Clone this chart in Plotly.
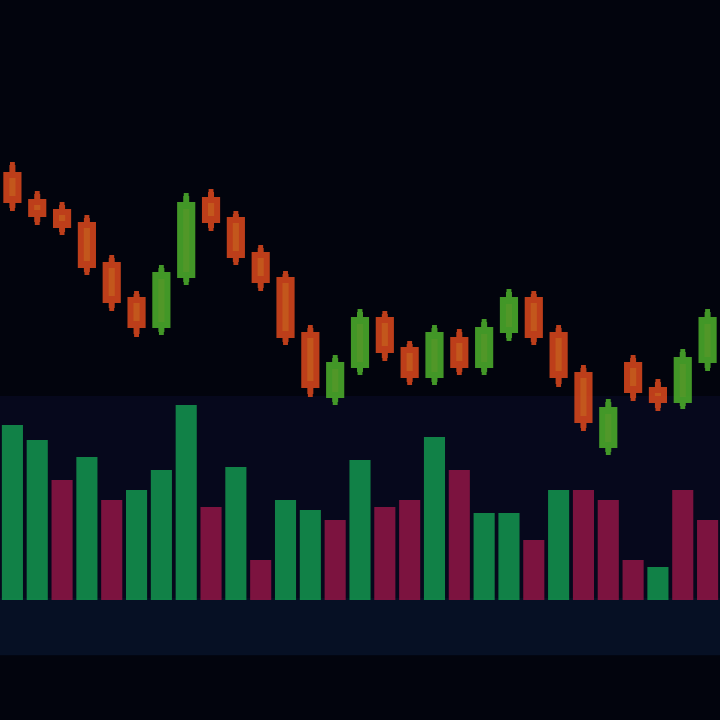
import plotly.graph_objects as go

# Candle index (time steps)
steps = list(range(29))

open_ = [54.5, 51.8, 50.8, 49.5, 45.5, 42.0, 39.5, 44.5, 52.0, 50.0, 46.5, 44.0, 38.5, 32.5, 35.5,
         40.0, 37.0, 34.5, 38.0, 35.5, 39.0, 42.0, 38.5, 34.5, 27.5, 35.5, 33.0, 32.0, 36.0]
close = [52.0, 50.6, 49.5, 45.5, 42.0, 39.5, 44.5, 51.5, 50.0, 46.5, 44.0, 38.5, 33.5, 35.5, 40.0,
         37.0, 34.5, 38.5, 35.5, 39.0, 42.0, 38.5, 34.5, 30.0, 31.0, 33.0, 32.0, 36.0, 40.0]
high = [55.5, 52.6, 51.5, 50.2, 46.2, 42.6, 45.2, 52.4, 52.8, 50.6, 47.2, 44.6, 39.2, 36.2, 40.8,
        40.6, 37.6, 39.2, 38.8, 39.8, 42.8, 42.6, 39.2, 35.2, 31.8, 36.2, 33.8, 36.8, 40.8]
low = [51.2, 49.8, 48.8, 44.8, 41.2, 38.6, 38.8, 43.8, 49.2, 45.8, 43.2, 37.8, 32.6, 31.8, 34.8,
       36.2, 33.8, 33.8, 34.8, 34.8, 38.2, 37.8, 33.6, 29.2, 26.8, 32.2, 31.2, 31.4, 35.2]

volume = [1750, 1600, 1200, 1430, 1000, 1100, 1300, 1950, 930, 1330, 400, 1000, 900, 800, 1400,
          930, 1000, 1630, 1300, 870, 870, 600, 1100, 1100, 1000, 400, 330, 1100, 800]
volume_up = [True, True, False, True, False, True, True, True, False, True, False, True, True, False, True,
             False, False, True, False, True, True, False, True, False, False, False, True, False, False]

vol_colors = ["#14a052" if u else "#9a1648" for u in volume_up]

fig = go.Figure()

fig.add_trace(go.Bar(
    x=steps, y=volume, marker=dict(color=vol_colors, line=dict(width=0)),
    opacity=0.8, width=0.85, yaxis="y2", showlegend=False,
))

fig.add_trace(go.Candlestick(
    x=steps, open=open_, high=high, low=low, close=close,
    increasing=dict(line=dict(color="#4aa82a", width=6), fillcolor="#5aa82c"),
    decreasing=dict(line=dict(color="#d2451c", width=6), fillcolor="#d8601e"),
    whiskerwidth=0.4, opacity=0.9, showlegend=False,
))

fig.update_layout(
    width=720, height=720,
    margin=dict(l=0, r=0, t=0, b=0),
    paper_bgcolor="#02040d",
    plot_bgcolor="rgba(0,0,0,0)",
    bargap=0.2,
    xaxis=dict(range=[-0.5, 28.5], visible=False, rangeslider=dict(visible=False), fixedrange=True),
    yaxis=dict(domain=[0, 1], range=[0, 72], visible=False, showgrid=False),
    yaxis2=dict(domain=[0.1667, 0.5], range=[0, 2400], visible=False, showgrid=False, anchor="x"),
    shapes=[
        dict(type="rect", xref="paper", yref="paper", x0=0, x1=1, y0=0.09, y1=0.17,
             fillcolor="#0a1c3c", opacity=0.5, line=dict(width=0), layer="below"),
        dict(type="rect", xref="paper", yref="paper", x0=0, x1=1, y0=0.17, y1=0.45,
             fillcolor="#0a0c26", opacity=0.6, line=dict(width=0), layer="below"),
    ],
)

fig.write_html(
    "out.html",
    config={"displayModeBar": False},
    post_script="document.body.style.margin='0';document.body.style.background='#02040d';",
)
